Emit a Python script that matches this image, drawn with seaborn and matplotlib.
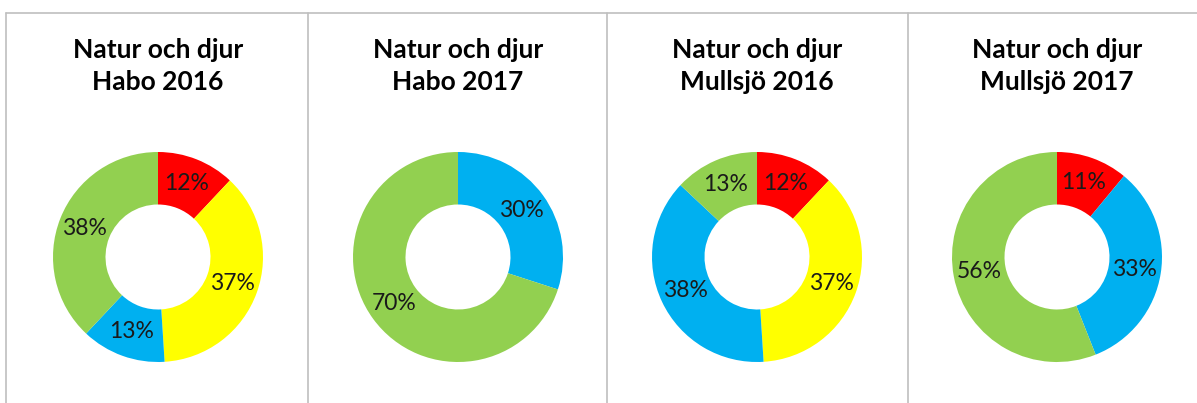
import matplotlib
matplotlib.use("Agg")
import matplotlib.pyplot as plt
from matplotlib.lines import Line2D
import seaborn as sns

# Data per panel: share for each category (clockwise from 12 o'clock)
categories = ["Röd", "Gul", "Blå", "Grön"]
titles = [
    "Natur och djur\nHabo 2016",
    "Natur och djur\nHabo 2017",
    "Natur och djur\nMullsjö 2016",
    "Natur och djur\nMullsjö 2017",
]
habo_2016 = [12, 37, 13, 38]
habo_2017 = [0, 0, 30, 70]
mullsjo_2016 = [12, 37, 38, 13]
mullsjo_2017 = [11, 0, 33, 56]
panels = [habo_2016, habo_2017, mullsjo_2016, mullsjo_2017]

colors = ["#FF0000", "#FFFF00", "#00B0F0", "#92D050"]

sns.set_theme(style="white")
plt.rcParams["font.family"] = ["Lato", "DejaVu Sans"]

W, H = 1197, 403
fig = plt.figure(figsize=(W / 100, H / 100), dpi=100)

# panel frame lines (pixel positions)
edges = [6, 308, 607, 908]
line_col = "#BFBFBF"
fig.add_artist(Line2D([6 / W, 1], [1 - 12.5 / H, 1 - 12.5 / H],
                      transform=fig.transFigure, color=line_col, lw=1.2))
for x in edges:
    fig.add_artist(Line2D([x / W, x / W], [0, 1 - 12.5 / H],
                          transform=fig.transFigure, color=line_col, lw=1.2))

radius_px = 105
cy = H - 257
centers = [158, 458, 757, 1057]
for cx, vals, title in zip(centers, panels, titles):
    size = 2 * radius_px + 4
    ax = fig.add_axes([(cx - size / 2) / W, (cy - size / 2) / H, size / W, size / H])
    sel = [(v, c) for v, c in zip(vals, colors) if v > 0]
    v_ = [s[0] for s in sel]
    c_ = [s[1] for s in sel]
    ax.pie(
        v_, colors=c_, startangle=90, counterclock=False,
        radius=radius_px / (size / 2),
        wedgeprops=dict(width=0.5 * radius_px / (size / 2), linewidth=0),
        autopct=lambda p: f"{p:.0f}%", pctdistance=0.75,
        textprops=dict(fontsize=16.5, color="#1a1a1a"),
    )
    ax.set_xlim(-1, 1)
    ax.set_ylim(-1, 1)
    ax.set_aspect("equal")
    ax.axis("off")
    fig.text(cx / W, 1 - 66 / H, title, ha="center", va="center",
             fontsize=19, fontweight="bold", linespacing=1.4, color="#000000")

fig.savefig("out.png", dpi=100)
